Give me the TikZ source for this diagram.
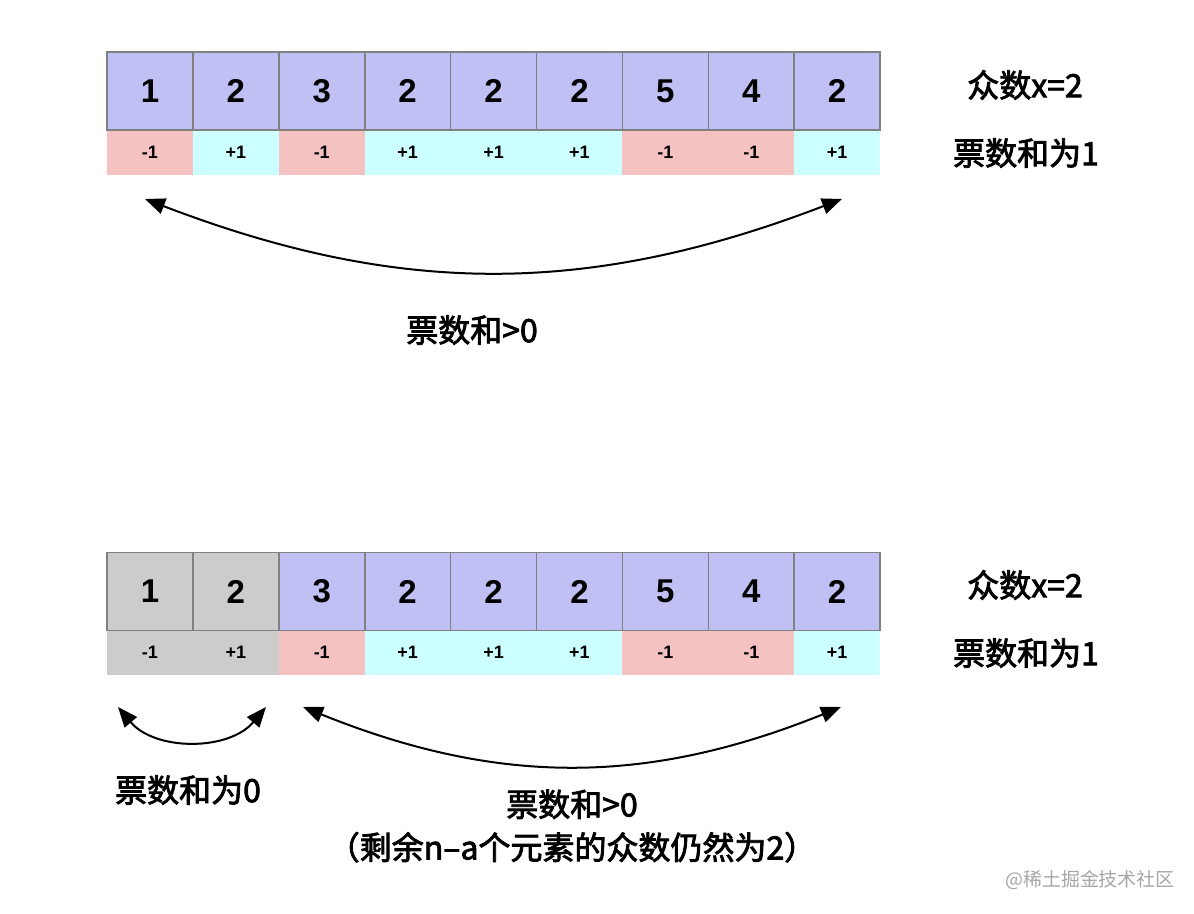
\documentclass[tikz,border=0pt]{standalone}
\usepackage{fontspec}
\setmainfont{Liberation Sans}
\newfontfamily\cjk{Noto Sans CJK SC}[FakeBold=2.5]
\newfontfamily\cjklight{Noto Sans CJK SC}
\usepackage{xcolor}
\usetikzlibrary{positioning,arrows.meta}

\definecolor{numblue}{RGB}{192,192,245}
\definecolor{minuspink}{RGB}{245,194,194}
\definecolor{pluscyan}{RGB}{204,255,255}
\definecolor{grayout}{RGB}{204,204,204}
\definecolor{cellline}{RGB}{128,128,128}

\begin{document}
\begin{tikzpicture}[
    x=0.5pt, y=-0.5pt,
    num/.style={
        draw=cellline,
        line width=0.8pt,
        fill=numblue,
        minimum width=42.95pt,
        minimum height=39pt,
        inner sep=0pt,
        outer sep=0pt,
        font=\fontsize{16.5}{18}\selectfont\bfseries
    },
    vote/.style={
        minimum width=42.95pt,
        minimum height=22.5pt,
        inner sep=0pt,
        outer sep=0pt,
        font=\fontsize{9}{11}\selectfont\bfseries
    },
    caption/.style={font=\cjk\fontsize{16}{21.5}\selectfont, align=center},
    arrow/.style={<->, line width=1pt, >={Triangle[length=10pt,width=8pt]}},
    watermark/.style={font=\cjklight\fontsize{9.5}{11}\selectfont, text=black!35}
]
\useasboundingbox (0,0) rectangle (1194,914);

% top row
\foreach \v/\s/\c [count=\i] in {1/-1/minuspink, 2/+1/pluscyan, 3/-1/minuspink,
        2/+1/pluscyan, 2/+1/pluscyan, 2/+1/pluscyan, 5/-1/minuspink,
        4/-1/minuspink, 2/+1/pluscyan} {
    \node[vote, fill=\c] (v\i) at ({107+(\i-0.5)*85.9},152.5) {\s};
    \node[num] (n\i) at ({107+(\i-0.5)*85.9},91) {\v};
}

\node[caption] (modeA) at (1025,85) {众数x=2};
\node[caption] (sumA) at (1026,153) {票数和为1};

\coordinate (topL) at (145,199);
\coordinate (topR) at (842,199);
\draw[arrow] (topL) to[bend right=21] (topR);
\node[caption] (allA) at (472,330) {票数和>0};

% bottom row, first two cancelled
\foreach \v/\s/\c/\f [count=\i] in {1/-1/grayout/grayout, 2/+1/grayout/grayout,
        3/-1/minuspink/numblue, 2/+1/pluscyan/numblue, 2/+1/pluscyan/numblue,
        2/+1/pluscyan/numblue, 5/-1/minuspink/numblue, 4/-1/minuspink/numblue,
        2/+1/pluscyan/numblue} {
    \node[vote, fill=\c] (w\i) at ({107+(\i-0.5)*85.9},652.5) {\s};
    \node[num, fill=\f] (m\i) at ({107+(\i-0.5)*85.9},591.5) {\v};
}

\node[caption] (modeB) at (1025,585) {众数x=2};
\node[caption] (sumB) at (1026,653) {票数和为1};

\coordinate (leftL) at (118,707);
\coordinate (leftR) at (266,707);
\coordinate (restL) at (303,707);
\coordinate (restR) at (841,707);
\draw[arrow] (leftL) to[bend right=50] (leftR);
\draw[arrow] (restL) to[bend right=22] (restR);

\node[caption] (zeroB) at (188,790) {票数和为0};
\node[caption] (restB) at (572,826) {票数和>0\\（剩余n–a个元素的众数仍然为2）};

\node[watermark] (site) at (1090,880) {@稀土掘金技术社区};

\end{tikzpicture}
\end{document}
